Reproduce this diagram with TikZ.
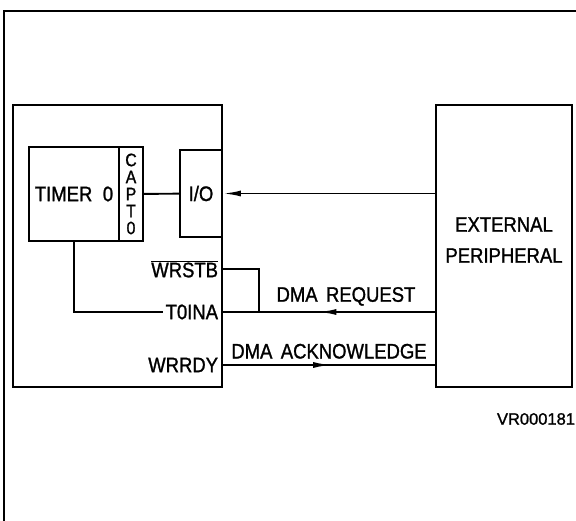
\documentclass[tikz,border=0pt]{standalone}
\usepackage{fontspec}
\setmainfont[FakeStretch=0.88,FakeBold=1.2]{Liberation Sans}
\newfontfamily\codefont[FakeBold=1.2]{Liberation Sans}
\usetikzlibrary{arrows.meta,decorations.markings}
\begin{document}
\begin{tikzpicture}[x=1pt,y=-1pt,line width=1.9pt,line join=miter,>={Latex[length=18pt,width=6pt]},
	font=\fontsize{21}{31}\selectfont,
	blk/.style={draw,rectangle,inner sep=0pt},
	pinlbl/.style={anchor=east,inner sep=2pt},
	midarrow/.style={postaction={decorate},decoration={markings,mark=at position #1 with {\arrow{>}}}}]
	\useasboundingbox (0,0) rectangle (576,521);
	\draw[line width=2.6pt] (4,521) -- (4,11) -- (576,11);
	% blocks
	\node[blk,minimum width=209pt,minimum height=282pt] (mcu) at (117.5,246) {};
	\node[blk,minimum width=90pt,minimum height=94pt] (timer) at (74,194) {TIMER\hspace{0.5em}0};
	\node[blk,minimum width=24pt,minimum height=94pt,align=center,font=\fontsize{18}{17}\selectfont] (capt) at (131,194) {C\\A\\P\\T\\0};
	\node[blk,minimum width=42pt,minimum height=87pt] (io) at (201,193.5) {I/O};
	\node[blk,minimum width=136pt,minimum height=282pt] (per) at (504,246) {};
	\node[align=center] (pername) at ([yshift=6pt]per.center) {EXTERNAL\\PERIPHERAL};
	% pins
	\node[pinlbl] (wrstb) at (221,269) {$\overline{\hbox{WRSTB}}$};
	\node[pinlbl] (t0ina) at (221,312) {T0INA};
	\node[pinlbl] (wrrdy) at (221,365) {WRRDY};
	\coordinate (jn) at (259,312);
	% connections
	\draw (capt) -- (io);
	\draw[<-] (io.east) -- (io.east -| per.west);
	\draw (timer.south) |- (t0ina.west);
	\draw (wrstb.east -| mcu.east) -| (jn);
	\draw[midarrow=0.55] (t0ina.east -| per.west) -- (t0ina.east -| mcu.east)
		node[pos=0.42,above=2pt] (req) {DMA\hspace{0.4em}REQUEST};
	\draw[midarrow=0.51] (wrrdy.east -| mcu.east) -- (wrrdy.east -| per.west)
		node[midway,above=2pt] (ack) {DMA\hspace{0.4em}ACKNOWLEDGE};
	\node[font=\codefont\fontsize{16.5}{18}\selectfont] (vr) at (536,419) {VR000181};
\end{tikzpicture}
\end{document}
